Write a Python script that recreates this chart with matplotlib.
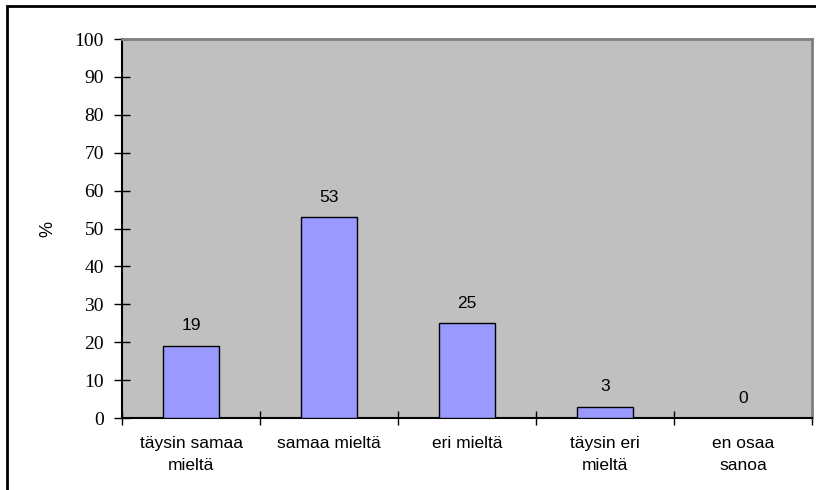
import numpy as np
import matplotlib.pyplot as plt
from matplotlib.patches import Rectangle

categories = ['täysin samaa\nmieltä', 'samaa mieltä', 'eri mieltä', 'täysin eri\nmieltä', 'en osaa\nsanoa']
values = [19, 53, 25, 3, 0]
yticks = [0, 10, 20, 30, 40, 50, 60, 70, 80, 90, 100]


def draw_chart():
    fig = plt.figure(figsize=(8.16, 4.90), dpi=100)
    ax = fig.add_axes([122 / 816, 72 / 490, 690 / 816, 379 / 490])

    # outer frame, cut off at the right and bottom like the original
    fig.patches.append(Rectangle((7 / 816, -0.1), 1.2, 484 / 490 + 0.1,
                                 transform=fig.transFigure, fill=False,
                                 edgecolor='black', linewidth=2))

    index = np.arange(len(values))
    ax.set_facecolor('#C0C0C0')
    ax.bar(index, values, 0.4, color='#9999FF', edgecolor='black', linewidth=1, zorder=3)

    for i, v in enumerate(values):
        ax.annotate(str(v), (i, v), xytext=(0, 9), textcoords='offset points',
                    ha='center', va='bottom', fontsize=12.5, family='Liberation Sans')

    ax.set_xlim(-0.5, len(values) - 0.5)
    ax.set_ylim(0, 100)
    ax.set_yticks(yticks)
    ax.set_yticklabels([str(t) for t in yticks], family='Liberation Serif', fontsize=14)
    ax.tick_params(axis='y', direction='inout', length=12, width=1, pad=7)

    ax.set_xticks(np.arange(len(values) + 1) - 0.5)
    ax.set_xticklabels([])
    ax.tick_params(axis='x', which='major', direction='inout', length=10, width=1)
    ax.set_xticks(index, minor=True)
    ax.set_xticklabels(categories, minor=True, family='Liberation Sans', fontsize=12.5,
                       linespacing=1.55, va='top')
    ax.tick_params(axis='x', which='minor', length=0, pad=13)

    ax.set_ylabel('%', family='Liberation Sans', fontsize=13, labelpad=13)

    for s in ['left', 'bottom']:
        ax.spines[s].set_color('black')
        ax.spines[s].set_linewidth(1.5)
    for s in ['top', 'right']:
        ax.spines[s].set_color('#808080')
        ax.spines[s].set_linewidth(2)

    fig.savefig('out.png', dpi=100)


if __name__ == '__main__':
    draw_chart()
